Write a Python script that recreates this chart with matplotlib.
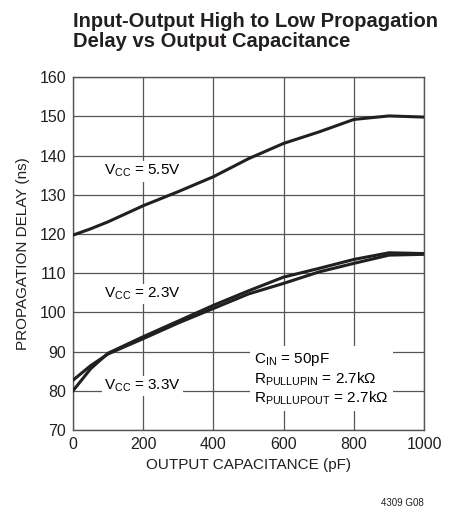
import matplotlib
matplotlib.use('Agg')
import matplotlib.pyplot as plt

plt.rcParams['font.family'] = ['Liberation Sans Narrow', 'Liberation Sans', 'DejaVu Sans']
plt.rcParams['mathtext.fontset'] = 'custom'
plt.rcParams['mathtext.rm'] = 'Liberation Sans'
plt.rcParams['mathtext.it'] = 'Liberation Sans'

# output capacitance (pF)
cap = [0, 50, 100, 200, 300, 400, 500, 600, 700, 800, 900, 1000]
# propagation delay (ns)
vcc55 = [119.7, 121.3, 123.1, 127.2, 130.8, 134.6, 139.2, 143.1, 146.0, 149.2, 150.1, 149.8]
vcc23 = [82.7, 86.4, 89.4, 93.3, 97.3, 101.0, 104.7, 107.4, 110.3, 112.5, 114.6, 114.8]
vcc33 = [80.0, 85.6, 89.6, 93.8, 97.8, 101.8, 105.5, 109.0, 111.2, 113.5, 115.2, 115.0]

fig = plt.figure(figsize=(4.62, 5.14), dpi=100)
ax = fig.add_axes([0.158, 0.1634, 0.760, 0.6866])

for y in (vcc55, vcc23, vcc33):
    ax.plot(cap, y, color='#231f20', lw=2.2, zorder=3)

ax.set_xlim(0, 1000)
ax.set_ylim(70, 160)
ax.set_xticks(range(0, 1001, 200))
ax.set_yticks(range(70, 161, 10))
ax.grid(True, color='#555555', lw=0.9)
ax.tick_params(length=0, labelsize=11.5, pad=5, colors='#231f20')
for s in ax.spines.values():
    s.set_color('#555555')
    s.set_linewidth(1.0)

ax.set_xlabel('OUTPUT CAPACITANCE (pF)', fontsize=11, color='#231f20', labelpad=4)
ax.set_ylabel('PROPAGATION DELAY (ns)', fontsize=11, color='#231f20', labelpad=7)

box = dict(facecolor='white', edgecolor='none', pad=1.5)
ax.text(88, 136.0, r'V$_{\rm CC}$ = 5.5V', fontsize=11, va='center', bbox=box, zorder=4)
ax.text(88, 104.7, r'V$_{\rm CC}$ = 2.3V', fontsize=11, va='center', bbox=box, zorder=4)
ax.text(88, 81.2, r'V$_{\rm CC}$ = 3.3V', fontsize=11, va='center', bbox=box, zorder=4)
ax.text(516, 83, 'C$_{\\rm IN}$ = 50pF\nR$_{\\rm PULLUPIN}$ = 2.7k$\\Omega$\nR$_{\\rm PULLUPOUT}$ = 2.7k$\\Omega$',
        fontsize=11, va='center', linespacing=1.15,
        bbox=dict(facecolor='white', edgecolor='none', pad=3), zorder=4)

fig.text(0.158, 0.977, 'Input-Output High to Low Propagation\nDelay vs Output Capacitance',
         fontsize=14.5, fontweight='bold', va='top', ha='left', color='#231f20', linespacing=1.1)
fig.text(0.918, 0.012, '4309 G08', fontsize=7, ha='right', va='bottom', color='#231f20')

fig.savefig('out.png', dpi=100)
